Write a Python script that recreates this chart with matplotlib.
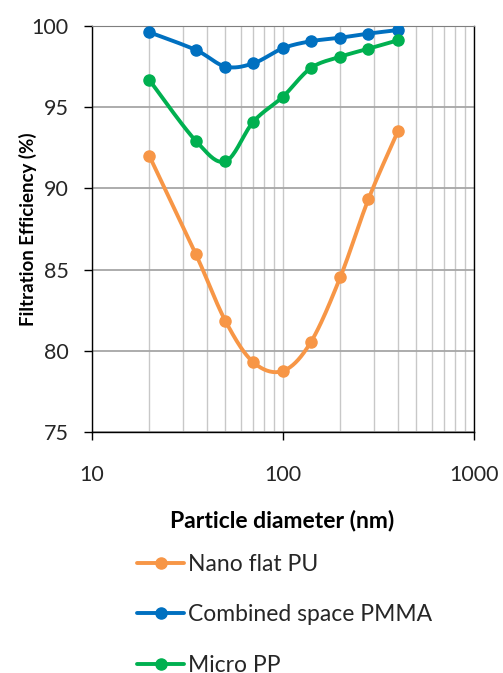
import numpy as np
import matplotlib
matplotlib.use('Agg')
import matplotlib.pyplot as plt
from matplotlib.ticker import LogLocator, NullFormatter, FixedLocator

plt.rcParams['font.family'] = ['Lato', 'DejaVu Sans']

# particle diameters (nm)
diameter = [20, 35, 50, 70, 100, 140, 200, 280, 400]

nano_flat_pu = [91.98, 85.94, 81.83, 79.29, 78.76, 80.54, 84.56, 89.33, 93.53]
combined_pmma = [99.61, 98.52, 97.50, 97.70, 98.63, 99.06, 99.28, 99.53, 99.75]
micro_pp = [96.66, 92.92, 91.67, 94.11, 95.65, 97.41, 98.11, 98.60, 99.12]

series_names = ['Nano flat PU', 'Combined space PMMA', 'Micro PP']
series_colors = ['#F79646', '#0070C0', '#00B050']

y_ticks = [75, 80, 85, 90, 95, 100]
x_ticks = [10, 100, 1000]


def smooth(x, y, n=20):
    # excel-like smoothed line: catmull-rom in (log x, y) space
    lx = np.log10(np.asarray(x, float))
    y = np.asarray(y, float)
    px = np.concatenate([[lx[0]], lx, [lx[-1]]])
    py = np.concatenate([[y[0]], y, [y[-1]]])
    t = np.linspace(0, 1, n, endpoint=False)
    xs, ys, marks = [], [], []
    for i in range(1, len(px) - 2):
        marks.append(len(xs))
        p0x, p1x, p2x, p3x = px[i - 1:i + 3]
        p0y, p1y, p2y, p3y = py[i - 1:i + 3]
        c1x, c1y = p1x + (p2x - p0x) / 6, p1y + (p2y - p0y) / 6
        c2x, c2y = p2x - (p3x - p1x) / 6, p2y - (p3y - p1y) / 6
        bx = (1-t)**3*p1x + 3*(1-t)**2*t*c1x + 3*(1-t)*t**2*c2x + t**3*p2x
        by = (1-t)**3*p1y + 3*(1-t)**2*t*c1y + 3*(1-t)*t**2*c2y + t**3*p2y
        xs.extend(bx)
        ys.extend(by)
    marks.append(len(xs))
    xs.append(lx[-1])
    ys.append(y[-1])
    return 10 ** np.array(xs), np.array(ys), marks


fig = plt.figure(figsize=(5.03, 6.73), dpi=100)
ax = fig.add_axes([0.1829, 0.3581, 0.7594, 0.6033])

for vals, name, col in zip([nano_flat_pu, combined_pmma, micro_pp], series_names, series_colors):
    sx, sy, marks = smooth(diameter, vals)
    ax.plot(sx, sy, color=col, lw=2.8, marker='o', markersize=8, markevery=marks,
            label=name, solid_capstyle='round', zorder=3)

ax.set_xscale('log')
ax.set_xlim(10, 1000)
ax.set_ylim(75, 100)
ax.xaxis.set_major_locator(FixedLocator(x_ticks))
ax.set_xticklabels([str(v) for v in x_ticks])
ax.xaxis.set_minor_locator(LogLocator(base=10, subs=np.arange(2, 10)))
ax.xaxis.set_minor_formatter(NullFormatter())
ax.set_yticks(y_ticks)

ax.grid(True, which='major', axis='y', color='#A6A6A6', lw=1.3, zorder=0)
ax.grid(True, which='both', axis='x', color='#C8C8C8', lw=1.0, zorder=0)
ax.set_axisbelow(True)

for s in ['left', 'bottom', 'right']:
    ax.spines[s].set_color('black')
    ax.spines[s].set_linewidth(1.0)
ax.spines['top'].set_color('#7F7F7F')

ax.tick_params(axis='both', which='major', direction='out', length=6, width=1,
               labelsize=15.5, colors='black', labelcolor='#262626')
ax.tick_params(axis='x', which='minor', length=0)
ax.tick_params(axis='x', which='major', pad=18)
ax.tick_params(axis='y', which='major', pad=11)

ax.set_ylabel('Filtration Efficiency (%)', fontsize=13.5, fontweight='bold', va='center')
ax.yaxis.set_label_coords(-0.1675, 0.5)
ax.set_xlabel('Particle diameter (nm)', fontsize=16.5, fontweight='bold', va='center')
ax.xaxis.set_label_coords(0.497, -0.219)

fig.legend(loc='upper left', bbox_to_anchor=(0.25, 0.1945), frameon=False,
           fontsize=16.5, handlelength=2.05, handletextpad=0.15, labelspacing=1.3,
           borderpad=0, labelcolor='#262626')

fig.savefig('out.png', dpi=100)
